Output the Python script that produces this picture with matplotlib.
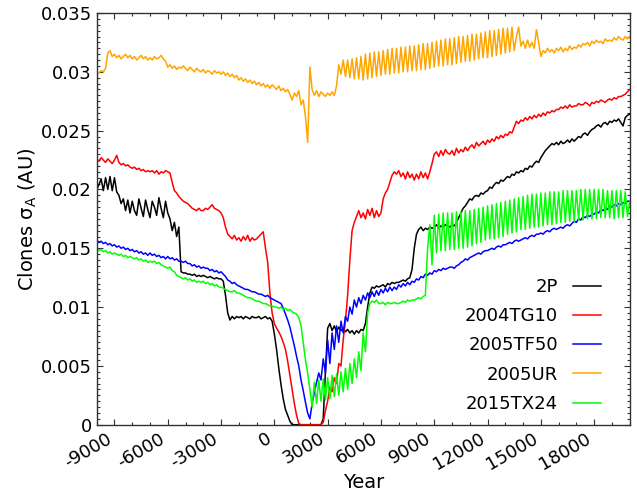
import numpy as np
import matplotlib
matplotlib.use("Agg")
import matplotlib.pyplot as plt
from matplotlib.ticker import MultipleLocator, FuncFormatter

# Sample years: every 125 years from -10000 to 20000
years = np.arange(-10000, 20001, 125)

# Values, in units of 1e-4 AU (8 values per 1000 years)
sig_2P = [
    200, 204, 209, 199, 210, 200, 211, 199,
    210, 198, 195, 188, 192, 182, 191, 180,
    190, 182, 178, 192, 184, 177, 191, 183,
    176, 190, 185, 178, 193, 184, 176, 190,
    180, 175, 165, 172, 160, 168, 130, 129,
    129, 128, 128, 127, 128, 126, 127, 126,
    127, 126, 125, 126, 125, 124, 125, 124,
    124, 122, 110, 95, 89, 92, 90, 92,
    91, 92, 90, 92, 91, 90, 92, 91,
    91, 92, 90, 91, 92, 90, 91, 88,
    77, 64, 48, 34, 22, 13, 8, 3,
    0, 0, 0, 0, 0, 0, 0, 0,
    0, 0, 0, 0, 0, 0, 5, 45,
    82, 86, 80, 84, 79, 83, 80, 82,
    79, 81, 78, 80, 77, 80, 78, 81,
    80, 86, 100, 112, 117, 116, 118, 117,
    118, 119, 117, 120, 119, 121, 120, 121,
    121, 122, 123, 122, 124, 125, 132, 150,
    162, 166, 168, 165, 167, 166, 168, 167,
    168, 170, 167, 169, 168, 170, 169, 168,
    170, 169, 172, 176, 180, 184, 186, 189,
    192, 191, 194, 195, 194, 197, 196, 198,
    199, 202, 201, 204, 206, 205, 208, 207,
    209, 211, 210, 213, 212, 215, 214, 216,
    215, 218, 217, 220, 219, 222, 224, 223,
    227, 230, 233, 235, 237, 239, 238, 240,
    238, 241, 239, 240, 242, 240, 243, 241,
    243, 245, 244, 247, 248, 246, 249, 251,
    252, 254, 255, 253, 256, 257, 255, 258,
    257, 259, 258, 260, 257, 254, 261, 263,
    264,
]

sig_2004TG10 = [
    226, 224, 227, 225, 223, 226, 224, 222,
    225, 229, 223, 221, 222, 220, 221, 219,
    218, 219, 217, 218, 216, 217, 215, 216,
    215, 216, 214, 216, 213, 215, 214, 216,
    215, 214, 206, 199, 197, 194, 192, 190,
    189, 188, 186, 184, 183, 182, 184, 182,
    182, 184, 183, 185, 187, 184, 183, 182,
    180, 176, 168, 162, 160, 158, 161, 157,
    159, 156, 160, 157, 161, 156, 159, 157,
    158, 160, 162, 164, 150, 138, 112, 95,
    86, 82, 79, 75, 70, 64, 54, 42,
    30, 18, 8, 1, 0, 0, 0, 0,
    0, 0, 0, 0, 0, 0, 2, 12,
    20, 32, 28, 40, 35, 52, 50, 72,
    88, 110, 140, 165, 172, 177, 182, 176,
    180, 175, 183, 178, 184, 176, 182, 177,
    180, 192, 197, 200, 206, 212, 215, 213,
    216, 211, 214, 209, 215, 210, 213, 208,
    213, 209, 215, 210, 214, 209, 215, 222,
    230, 232, 228, 233, 229, 234, 231, 230,
    233, 229, 235, 231, 234, 232, 236, 233,
    236, 238, 235, 240, 237, 239, 241, 238,
    242, 240, 243, 241, 245, 243, 246, 244,
    247, 246, 249, 248, 253, 258, 256, 259,
    258, 261, 259, 262, 260, 263, 261, 264,
    262, 265, 263, 266, 265, 267, 266, 268,
    268, 270, 269, 271, 269, 272, 270, 271,
    271, 273, 272, 272, 274, 273, 271, 274,
    273, 275, 274, 276, 275, 274, 276, 277,
    276, 278, 277, 279, 279, 280, 281, 283,
    285,
]

sig_2005TF50 = [
    157, 155, 156, 154, 155, 153, 154, 152,
    153, 151, 152, 150, 151, 149, 150, 148,
    149, 147, 148, 146, 147, 145, 146, 144,
    146, 144, 145, 143, 144, 142, 143, 141,
    143, 141, 142, 140, 141, 139, 139, 138,
    139, 137, 137, 135, 136, 134, 135, 133,
    134, 133, 133, 131, 132, 130, 131, 129,
    130, 128, 126, 123, 122, 120, 121, 119,
    118, 117, 116, 115, 115, 114, 113, 113,
    112, 111, 111, 110, 109, 110, 108, 107,
    106, 105, 104, 103, 99, 94, 89, 83,
    75, 67, 58, 50, 38, 29, 19, 10,
    5, 18, 27, 36, 44, 38, 56, 44,
    72, 52, 78, 64, 84, 70, 88, 78,
    92, 88, 100, 94, 106, 100, 108, 103,
    110, 106, 112, 108, 113, 109, 114, 110,
    115, 112, 116, 113, 117, 114, 117, 115,
    119, 117, 120, 118, 121, 119, 122, 121,
    124, 123, 126, 125, 128, 127, 129, 128,
    131, 130, 132, 131, 133, 132, 133, 134,
    134, 133, 135, 136, 138, 139, 141, 140,
    142, 143, 144, 145, 146, 145, 147, 148,
    148, 149, 150, 149, 151, 152, 151, 153,
    153, 154, 155, 154, 156, 157, 156, 157,
    158, 159, 158, 160, 161, 160, 162, 162,
    163, 162, 164, 165, 164, 166, 167, 166,
    167, 168, 167, 169, 170, 169, 171, 173,
    172, 175, 174, 177, 176, 178, 177, 179,
    179, 181, 180, 183, 182, 184, 183, 186,
    185, 187, 186, 188, 187, 189, 188, 190,
    190,
]

sig_2005UR = [
    300, 299, 301, 300, 303, 316, 318, 313,
    315, 312, 314, 311, 313, 315, 312, 314,
    311, 313, 310, 312, 314, 311, 313, 310,
    312, 310, 313, 311, 312, 314, 311, 309,
    304, 306, 303, 305, 302, 304, 303, 305,
    303, 301, 304, 302, 300, 303, 301, 300,
    302, 299, 301, 300, 298, 301, 299, 300,
    298, 300, 297, 299, 296, 298, 295, 297,
    293, 295, 292, 294, 291, 293, 290, 292,
    289, 291, 288, 290, 287, 289, 286, 289,
    287, 285, 288, 284, 286, 283, 285, 281,
    276, 282, 279, 284, 272, 276, 262, 240,
    304, 285, 280, 284, 279, 283, 281, 279,
    282, 280, 283, 280, 288, 306, 298, 310,
    296, 310, 295, 311, 294, 312, 294, 313,
    293, 315, 294, 316, 295, 317, 296, 317,
    297, 318, 298, 319, 298, 320, 299, 320,
    299, 321, 300, 321, 300, 322, 301, 322,
    301, 323, 302, 324, 302, 324, 303, 325,
    304, 326, 305, 327, 305, 328, 306, 328,
    306, 329, 307, 330, 308, 330, 309, 331,
    309, 332, 310, 332, 311, 333, 312, 334,
    312, 335, 313, 335, 314, 336, 315, 337,
    316, 337, 317, 338, 318, 330, 338, 322,
    326, 320, 327, 321, 325, 320, 336, 325,
    313, 318, 316, 320, 317, 319, 316, 320,
    318, 321, 317, 320, 318, 322, 319, 321,
    320, 323, 321, 324, 323, 325, 322, 326,
    324, 327, 325, 326, 324, 328, 326, 327,
    326, 329, 327, 330, 328, 327, 330, 328,
    330,
]

sig_2015TX24 = [
    150, 148, 149, 147, 148, 146, 147, 145,
    146, 145, 144, 145, 143, 144, 142, 143,
    142, 141, 142, 140, 141, 139, 140, 138,
    139, 138, 139, 137, 138, 136, 135, 134,
    133, 134, 131, 130, 127, 126, 125, 124,
    125, 123, 124, 122, 123, 121, 122, 121,
    122, 120, 121, 119, 120, 118, 119, 117,
    117, 116, 115, 114, 113, 113, 114, 112,
    112, 111, 110, 109, 108, 108, 107, 106,
    105, 105, 104, 103, 103, 102, 101, 101,
    100, 100, 99, 100, 98, 99, 97, 98,
    96, 95, 94, 91, 84, 70, 55, 44,
    30, 15, 36, 18, 38, 20, 39, 21,
    40, 22, 42, 24, 43, 25, 45, 28,
    48, 30, 52, 35, 56, 40, 62, 46,
    78, 62, 95, 103, 105, 104, 106, 103,
    103, 104, 102, 104, 103, 103, 104, 103,
    103, 104, 105, 104, 106, 105, 106, 106,
    107, 108, 107, 109, 110, 150, 170, 136,
    178, 146, 179, 148, 180, 148, 180, 149,
    180, 149, 181, 150, 181, 150, 182, 151,
    182, 152, 183, 154, 184, 155, 185, 157,
    186, 158, 187, 158, 188, 159, 189, 160,
    190, 162, 191, 163, 192, 164, 193, 166,
    194, 166, 195, 167, 196, 168, 196, 168,
    197, 169, 197, 170, 198, 170, 198, 171,
    198, 172, 199, 172, 199, 173, 199, 173,
    199, 174, 200, 174, 200, 175, 200, 175,
    200, 175, 200, 176, 200, 176, 199, 176,
    199, 175, 199, 176, 199, 176, 198, 177,
    190,
]

labels = ["2P", "2004TG10", "2005TF50", "2005UR", "2015TX24"]
colors = ["black", "#ff0000", "#0000ff", "#ffa500", "#00ff00"]
series = [sig_2P, sig_2004TG10, sig_2005TF50, sig_2005UR, sig_2015TX24]

xticks = [-9000, -6000, -3000, 0, 3000, 6000, 9000, 12000, 15000, 18000]

fig = plt.figure(figsize=(6.37, 4.95), dpi=100)
ax = fig.add_axes([0.1518, 0.142, 0.8367, 0.8317])

for vals, lab, col in zip(series, labels, colors):
    ax.plot(years, np.array(vals) / 1e4, color=col, lw=1.1, label=lab)

ax.set_xlim(-10000, 20000)
ax.set_ylim(0, 0.035)
ax.set_xticks(xticks)
ax.xaxis.set_minor_locator(MultipleLocator(1000))
ax.yaxis.set_major_locator(MultipleLocator(0.005))
ax.yaxis.set_minor_locator(MultipleLocator(0.0005))
ax.yaxis.set_major_formatter(FuncFormatter(lambda v, p: "%g" % round(v, 4)))
ax.xaxis.set_major_formatter(FuncFormatter(lambda v, p: "%d" % v))

ax.tick_params(which="both", direction="in", top=True, right=True, colors="#333333",
               labelcolor="black", labelsize=13)
ax.tick_params(which="major", length=4.5, width=0.8)
ax.tick_params(which="minor", length=2.5, width=0.8)
for lbl in ax.get_xticklabels():
    lbl.set_rotation(30)
    lbl.set_ha("right")
for sp in ax.spines.values():
    sp.set_color("#333333")
    sp.set_linewidth(1.0)

ax.set_xlabel("Year", fontsize=14, labelpad=0)
ax.set_ylabel("Clones σ$_\\mathrm{A}$ (AU)", fontsize=14, labelpad=1.5)

leg = ax.legend(loc="lower right", bbox_to_anchor=(0.981, -0.015), frameon=False,
                markerfirst=False, fontsize=13, handlelength=1.6, labelspacing=0.62,
                borderaxespad=0.6)

fig.savefig("out.png", dpi=100)
